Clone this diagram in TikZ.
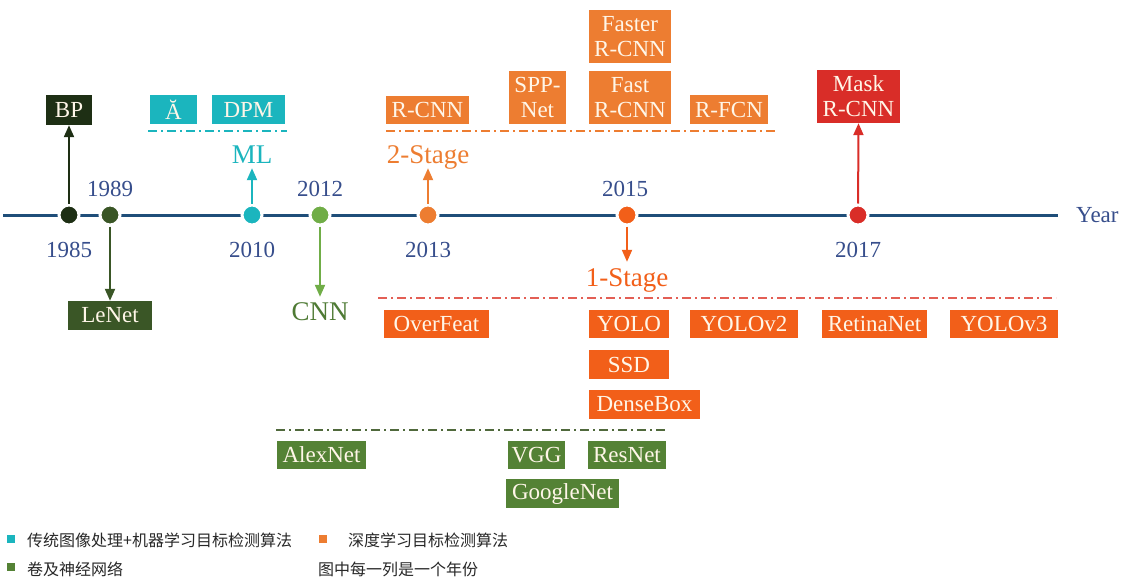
\documentclass[tikz,border=0pt]{standalone}
\usepackage{fontspec}
\setmainfont{Liberation Serif}
\newfontfamily\cjk{Noto Sans CJK SC}
\usetikzlibrary{arrows.meta}
\definecolor{axisblue}{RGB}{31,78,121}
\definecolor{yearblue}{RGB}{55,78,140}
\definecolor{cDark}{RGB}{30,47,20}
\definecolor{cLeNet}{RGB}{58,86,38}
\definecolor{cTeal}{RGB}{27,181,190}
\definecolor{cLight}{RGB}{112,173,71}
\definecolor{cCNNtxt}{RGB}{78,122,52}
\definecolor{cGreen}{RGB}{84,130,53}
\definecolor{cOrange}{RGB}{237,125,49}
\definecolor{cOrRed}{RGB}{242,95,25}
\definecolor{cRed}{RGB}{217,45,40}
\definecolor{cPink}{RGB}{227,95,85}
\definecolor{cGreenDash}{RGB}{80,105,60}
\definecolor{boxtext}{RGB}{255,246,232}
\definecolor{legtext}{RGB}{40,40,40}
\tikzset{
  bx/.style={rectangle, inner sep=0pt, text=boxtext, align=center,
    font=\fontsize{23}{25}\selectfont},
  yr/.style={text=yearblue, font=\fontsize{23}{25}\selectfont, inner sep=0pt},
  stagelbl/.style={inner sep=0pt, text height=18pt, text depth=5pt,
    font=\fontsize{27}{28}\selectfont},
  dot/.style={circle, inner sep=0pt, minimum size=20pt, draw=white, line width=3pt},
  arr/.style={line width=2pt, -{Triangle[length=12pt,width=10pt]}},
  ddash/.style={line width=1.3pt, dash pattern=on 9pt off 4pt on 2pt off 4pt},
  legsq/.style={rectangle, inner sep=0pt, minimum size=8pt},
  legtxt/.style={anchor=west, inner sep=0pt, text=legtext, font=\cjk\fontsize{16}{18}\selectfont}
}
\begin{document}
\begin{tikzpicture}[x=1pt,y=-1pt]
\useasboundingbox[fill=white] (0,0) rectangle (1134,586);
% axis
\coordinate (axL) at (3,215);
\coordinate (axR) at (1058,215);
\draw[axisblue, line width=3pt] (axL) -- (axR);
\node[yr, anchor=west] (year) at (1076,215) {Year};
% dots
\node[dot, fill=cDark] (d1985) at (69,215) {};
\node[dot, fill=cLeNet] (d1989) at (110,215) {};
\node[dot, fill=cTeal] (d2010) at (252,215) {};
\node[dot, fill=cLight] (d2012) at (320,215) {};
\node[dot, fill=cOrange] (d2013) at (428,215) {};
\node[dot, fill=cOrRed] (d2015) at (627,215) {};
\node[dot, fill=cRed] (d2017) at (858,215) {};
% year labels
\node[yr] (y1985) at (69,250) {1985};
\node[yr] (y1989) at (110,189) {1989};
\node[yr] (y2010) at (252,250) {2010};
\node[yr] (y2012) at (320,189) {2012};
\node[yr] (y2013) at (428,250) {2013};
\node[yr] (y2015) at (625,189) {2015};
\node[yr] (y2017) at (858,250) {2017};
% category labels
\node[stagelbl, text=cTeal] (ML) at (252,156.5) {ML};
\node[stagelbl, text=cOrange] (two) at (428,156.5) {2-Stage};
\node[stagelbl, text=cOrRed] (one) at (627,279.5) {1-Stage};
\node[stagelbl, text=cCNNtxt] (CNN) at (320,313.5) {CNN};
% boxes
\node[bx, fill=cDark, minimum width=46pt, minimum height=30pt] (BP) at (69,110) {BP};
\node[bx, fill=cLeNet, minimum width=84pt, minimum height=29pt] (LeNet) at (110,315.5) {LeNet};
\node[bx, fill=cTeal, minimum width=47pt, minimum height=29pt] (A) at (173.5,109.5) {Ă};
\node[bx, fill=cTeal, minimum width=73pt, minimum height=29pt] (DPM) at (248.5,109.5) {DPM};
\node[bx, fill=cOrange, minimum width=83pt, minimum height=28pt] (RCNN) at (427.5,110) {R-CNN};
\node[bx, fill=cOrange, minimum width=57pt, minimum height=53pt] (SPP) at (537.5,97.5) {SPP-\\Net};
\node[bx, fill=cOrange, minimum width=82pt, minimum height=53pt] (Fast) at (630,97.5) {Fast\\R-CNN};
\node[bx, fill=cOrange, minimum width=82pt, minimum height=53pt] (Faster) at (630,36.5) {Faster\\R-CNN};
\node[bx, fill=cOrange, minimum width=78pt, minimum height=29pt] (RFCN) at (729,109.5) {R-FCN};
\node[bx, fill=cRed, minimum width=83pt, minimum height=53pt] (Mask) at (858.5,96.5) {Mask\\R-CNN};
\node[bx, fill=cOrRed, minimum width=105pt, minimum height=28pt] (OverFeat) at (436.5,324) {OverFeat};
\node[bx, fill=cOrRed, minimum width=80pt, minimum height=28pt] (YOLO) at (629,324) {YOLO};
\node[bx, fill=cOrRed, minimum width=108pt, minimum height=28pt] (YOLOv2) at (744,324) {YOLOv2};
\node[bx, fill=cOrRed, minimum width=105pt, minimum height=28pt] (Retina) at (874.5,324) {RetinaNet};
\node[bx, fill=cOrRed, minimum width=108pt, minimum height=28pt] (YOLOv3) at (1004,324) {YOLOv3};
\node[bx, fill=cOrRed, minimum width=80pt, minimum height=29pt] (SSD) at (629,364.5) {SSD};
\node[bx, fill=cOrRed, minimum width=111pt, minimum height=29pt] (Dense) at (644.5,404.5) {DenseBox};
\node[bx, fill=cGreen, minimum width=89pt, minimum height=28pt] (Alex) at (321.5,455) {AlexNet};
\node[bx, fill=cGreen, minimum width=57pt, minimum height=28pt] (VGG) at (536.5,455) {VGG};
\node[bx, fill=cGreen, minimum width=78pt, minimum height=28pt] (ResNet) at (627,455) {ResNet};
\node[bx, fill=cGreen, minimum width=113pt, minimum height=29pt] (Google) at (562.5,493.5) {GoogleNet};
% dash-dot group lines
\coordinate (tL) at (148,131); \coordinate (tR) at (287,131);
\draw[ddash, cTeal] (tL) -- (tR);
\coordinate (oL) at (386,131); \coordinate (oR) at (778,131);
\draw[ddash, cOrange] (oL) -- (oR);
\coordinate (pL) at (378,298); \coordinate (pR) at (1056,298);
\draw[ddash, cPink] (pL) -- (pR);
\coordinate (gL) at (276,430); \coordinate (gR) at (668,430);
\draw[ddash, cGreenDash] (gL) -- (gR);
% arrows
\draw[arr, cDark] (d1985) -- (BP.south);
\draw[arr, cLeNet] (d1989) -- (LeNet.north);
\draw[arr, cTeal] (d2010) -- (ML.south);
\draw[arr, cLight, shorten >=5pt] (d2012) -- (CNN.north);
\draw[arr, cOrange] (d2013) -- (two.south);
\draw[arr, cOrRed, shorten >=6pt] (d2015) -- (one.north);
\draw[arr, cRed] (d2017) -- (Mask.south);
% legend
\node[legsq, fill=cTeal] (sq1) at (11,539) {};
\node[legtxt] (l1) at (27,540) {传统图像处理+机器学习目标检测算法};
\node[legsq, fill=cOrange] (sq2) at (323,539) {};
\node[legtxt] (l2) at (348,540) {深度学习目标检测算法};
\node[legsq, fill=cGreen] (sq3) at (11,567) {};
\node[legtxt] (l3) at (27,569) {卷及神经网络};
\node[legtxt] (l4) at (318,569) {图中每一列是一个年份};
\end{tikzpicture}
\end{document}
